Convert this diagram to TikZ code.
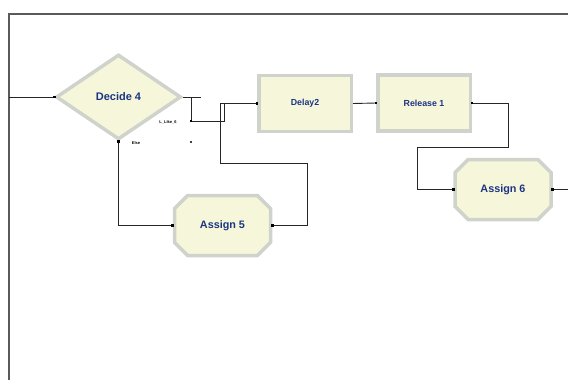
\documentclass[tikz,border=0pt]{standalone}
\usepackage{fontspec}
\setmainfont{Liberation Sans}
\usepackage{tikz}
\usetikzlibrary{shapes.geometric, shapes.misc, arrows.meta, positioning, calc}
\definecolor{modfill}{HTML}{F6F7DA}
\definecolor{modedge}{HTML}{CFD3CB}
\definecolor{modtext}{HTML}{1C3483}
\definecolor{frame}{HTML}{5A5A5A}

\begin{document}
\begin{tikzpicture}[x=1pt, y=-1pt]
    \tikzstyle{mod}=[draw=modedge, fill=modfill, line width=3.5pt, inner sep=0pt, text=modtext]
    \tikzstyle{proc}=[mod, rectangle, minimum width=92.5pt, minimum height=56pt,
                      font=\fontsize{8.8}{10}\selectfont\bfseries]
    \tikzstyle{asg}=[mod, chamfered rectangle, chamfered rectangle xsep=8pt, chamfered rectangle ysep=8pt,
                     minimum width=96pt, minimum height=60pt, font=\fontsize{10.8}{12}\selectfont\bfseries]
    \tikzstyle{conn}=[line width=0.9pt, color=black!85]
    \tikzstyle{pin}=[fill=black, inner sep=0pt, minimum size=2.6pt, rectangle]
    \tikzstyle{tag}=[font=\fontsize{4}{5}\selectfont\bfseries, inner sep=0.5pt]

    \useasboundingbox (0,0) rectangle (568,380);

    % frame of the model window
    \coordinate (fl) at (9,380);
    \coordinate (ft) at (9,14);
    \coordinate (fr) at (568,14);
    \draw[frame, line width=1.2pt] (fl) -- (ft) -- (fr);

    % modules
    \node[mod, diamond, minimum width=125pt, minimum height=85pt,
          font=\fontsize{11}{12}\selectfont\bfseries] (dec4) at (118.5,97) {Decide 4};
    \node[proc] (delay2) at (305,103.5) {Delay2};
    \node[proc] (rel1)   at (424,103)   {Release 1};
    \node[asg]  (asg5)   at (222.5,225.5) {Assign 5};
    \node[asg]  (asg6)   at (503,189.5)   {Assign 6};

    % exit labels
    \node[tag] (ltrue) at (168,122) {L\_Like\_6};
    \node[tag] (lelse) at (136,143) {Else};
    \coordinate (tx) at (191,121);
    \coordinate (ex) at (191,142);
    \coordinate (in) at (9,97);
    \coordinate (out) at (568,189.5);

    % connectors
    \draw[conn] (in) -- (dec4.west);
    \draw[conn] (dec4.east) -- ++(18,0);
    \draw[conn] (dec4.east -| tx) -- (tx) -- ++(33,0) |- (delay2.west);
    \draw[conn] (dec4.south) |- (asg5.west);
    \draw[conn] (asg5.east) -- ++(35,0) |- (220,163) |- (delay2.west);
    \draw[conn] (delay2.east) -- (rel1.west);
    \draw[conn] (rel1.east) -- ++(36,0) |- (417,147) |- (asg6.west);
    \draw[conn] (asg6.east) -- (out);

    % entry and exit points
    \foreach \p in {dec4.west, dec4.south, delay2.west, rel1.west, rel1.east, asg5.west, asg5.east, asg6.west, asg6.east}
      \node[pin] at (\p) {};
    \node[pin] at (tx) {};
    \fill (ex) circle (1.2pt);
\end{tikzpicture}
\end{document}
